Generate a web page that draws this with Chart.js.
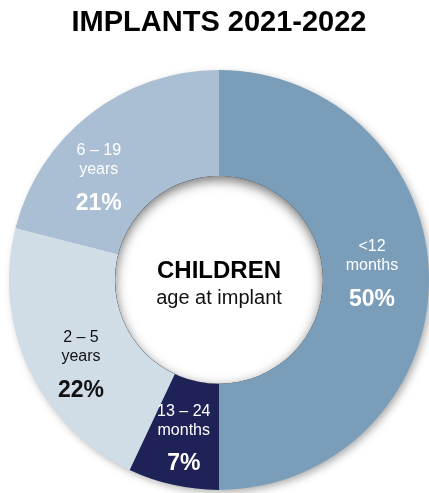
<!DOCTYPE html>
<html>
<head>
<meta charset="utf-8">
<script src="https://cdn.jsdelivr.net/npm/chart.js@4"></script>
<style>
  html, body { margin: 0; padding: 0; background: #fff; }
  #wrap { width: 429px; height: 493px; }
</style>
</head>
<body>
<div id="wrap"><canvas id="chart" width="429" height="493"></canvas></div>
<script>
// age groups, two text lines each, and share of implants (%)
const groups = ['<12 months', '13 – 24 months', '2 – 5 years', '6 – 19 years'];
const groupLine1 = ['<12', '13 – 24', '2 – 5', '6 – 19'];
const groupLine2 = ['months', 'months', 'years', 'years'];
const shares = [50, 7, 22, 21];

const sliceColors = ['#7a9eba', '#1f2257', '#d0dce6', '#aabfd3'];
const labelColors = ['#ffffff', '#ffffff', '#111111', '#ffffff'];
// small hand nudges of each label from its slice centre
const labelNudge = [[-4, -14], [-1, -3], [4, 10], [-24, 14]];

const font = 'Liberation Sans, Arial, Helvetica, sans-serif';

// drop shadow under the ring and an inner shadow in the hole
const ringShadow = {
  id: 'ringShadow',
  beforeDatasetsDraw(chart) {
    const arc = chart.getDatasetMeta(0).data[0];
    if (!arc) return;
    const ctx = chart.ctx;
    ctx.save();
    ctx.shadowColor = 'rgba(0,0,0,0.35)';
    ctx.shadowBlur = 8;
    ctx.shadowOffsetX = 3;
    ctx.shadowOffsetY = 3;
    ctx.fillStyle = '#7a9eba';
    ctx.beginPath();
    ctx.arc(arc.x, arc.y, arc.outerRadius - 1, 0, Math.PI * 2);
    ctx.fill();
    ctx.restore();
  },
  afterDatasetsDraw(chart) {
    const arc = chart.getDatasetMeta(0).data[0];
    if (!arc) return;
    const ctx = chart.ctx;
    const r = arc.innerRadius;
    ctx.save();
    ctx.beginPath();
    ctx.arc(arc.x, arc.y, r, 0, Math.PI * 2);
    ctx.fillStyle = '#fff';
    ctx.fill();
    ctx.clip();
    ctx.beginPath();
    ctx.arc(arc.x, arc.y, r + 30, 0, Math.PI * 2);
    ctx.arc(arc.x, arc.y, r, 0, Math.PI * 2, true);
    ctx.shadowColor = 'rgba(0,0,0,0.55)';
    ctx.shadowBlur = 12;
    ctx.shadowOffsetY = 4;
    ctx.fillStyle = '#000';
    ctx.fill();
    ctx.restore();
  }
};

// slice labels and the text in the middle
const sliceLabels = {
  id: 'sliceLabels',
  afterDraw(chart) {
    const ctx = chart.ctx;
    const meta = chart.getDatasetMeta(0);
    ctx.save();
    ctx.textAlign = 'center';
    ctx.textBaseline = 'middle';
    meta.data.forEach((arc, i) => {
      const p = arc.tooltipPosition();
      const x = p.x + labelNudge[i][0];
      const y = p.y + labelNudge[i][1];
      ctx.fillStyle = labelColors[i];
      ctx.font = '16px ' + font;
      ctx.fillText(groupLine1[i], x, y - 19);
      ctx.fillText(groupLine2[i], x, y);
      ctx.font = 'bold 23px ' + font;
      ctx.fillText(shares[i] + '%', x, y + 34);
    });
    const c = meta.data[0];
    ctx.fillStyle = '#000';
    ctx.font = 'bold 24px ' + font;
    ctx.fillText('CHILDREN', c.x, c.y - 9);
    ctx.fillStyle = '#111';
    ctx.font = '20px ' + font;
    ctx.fillText('age at implant', c.x, c.y + 19);
    ctx.restore();
  }
};

new Chart(document.getElementById('chart'), {
  type: 'doughnut',
  data: {
    labels: groups,
    datasets: [{
      data: shares,
      backgroundColor: sliceColors,
      borderWidth: 0,
      hoverOffset: 0
    }]
  },
  options: {
    responsive: false,
    animation: false,
    cutout: '49.5%',
    layout: { padding: { left: 9, right: 0, top: 0, bottom: 0 } },
    plugins: {
      legend: { display: false },
      tooltip: { enabled: false },
      title: {
        display: true,
        text: 'IMPLANTS 2021-2022',
        color: '#000',
        font: { family: font, size: 29, weight: 'bold', lineHeight: 1.2 },
        padding: { top: 6, bottom: 26 }
      }
    }
  },
  plugins: [ringShadow, sliceLabels]
});
</script>
</body>
</html>
